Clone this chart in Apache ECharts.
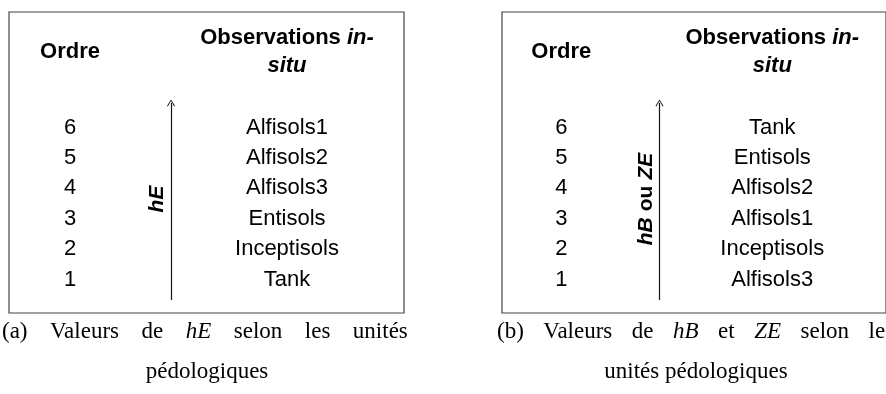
<!DOCTYPE html>
<html><head><meta charset="utf-8">
<script src="https://cdn.jsdelivr.net/npm/echarts@6/dist/echarts.min.js"></script>
<style>html,body{margin:0;padding:0;background:#fff}#c{width:886px;height:394px}</style>
</head><body><div id="c"></div>
<script>
// ---- data ----
const orders = [1, 2, 3, 4, 5, 6];
const unitsA = ['Tank', 'Inceptisols', 'Entisols', 'Alfisols3', 'Alfisols2', 'Alfisols1'];
const unitsB = ['Alfisols3', 'Inceptisols', 'Alfisols1', 'Alfisols2', 'Entisols', 'Tank'];
const headerOrder = 'Ordre';
const headerObs = ['Observations', 'in-', 'situ'];
const arrowLabelA = ['hE'];
const arrowLabelB = ['hB', 'ou', 'ZE'];
// caption words: [text, italic?]
const captionA1 = [['(a)', 0], ['Valeurs', 0], ['de', 0], ['hE', 1], ['selon', 0], ['les', 0], ['unités', 0]];
const captionA2 = 'pédologiques';
const captionB1 = [['(b)', 0], ['Valeurs', 0], ['de', 0], ['hB', 1], ['et', 0], ['ZE', 1], ['selon', 0], ['les', 0]];
const captionB2 = 'unités pédologiques';

// ---- layout (not data) ----
const COL = { order: 61, label: 148, arrow: 162, obs: 278 };
const ROW = { header: 8.47, arrowFrom: 0.33, arrowTo: 6.81, label: 3.65 };
const SANS = 'Liberation Sans, Arial, sans-serif';
const SERIF = 'Liberation Serif, Times New Roman, serif';
const FS = 22;
const arrowHead = 'path://M0,10 L5,0 L10,10 L9,10.7 L5,2.3 L1,10.7 Z';

function panelSeries(idx, units, labelParts) {
  const base = { type: 'scatter', xAxisIndex: idx, yAxisIndex: idx, symbolSize: 0, silent: true,
    animation: false, emphasis: { disabled: true }, itemStyle: { opacity: 1 } };
  const lbl = { show: true, position: 'inside', align: 'center', verticalAlign: 'middle',
    fontFamily: SANS, fontSize: FS, color: '#000', opacity: 1 };
  const rot = labelParts.length === 1
    ? '{bi|' + labelParts[0] + '}'
    : '{bi|' + labelParts[0] + '} {b|' + labelParts[1] + '} {bi|' + labelParts[2] + '}';
  return [
    Object.assign({}, base, {
      data: orders.map(o => [COL.order, o]),
      label: Object.assign({}, lbl, { formatter: p => String(p.value[1]) }),
      markLine: { silent: true, animation: false, symbol: ['none', arrowHead], symbolSize: [8, 7],
        lineStyle: { color: '#111', width: 1.2, type: 'solid', opacity: 1 }, label: { show: false },
        emphasis: { disabled: true },
        data: [[{ coord: [COL.arrow, ROW.arrowFrom] }, { coord: [COL.arrow, ROW.arrowTo] }]] }
    }),
    Object.assign({}, base, {
      data: units.map((u, i) => ({ name: u, value: [COL.obs, orders[i]] })),
      label: Object.assign({}, lbl, { formatter: '{b}' })
    }),
    Object.assign({}, base, {
      data: [{ name: 'o', value: [COL.order, ROW.header] }, { name: 'obs', value: [COL.obs, ROW.header] }],
      label: Object.assign({}, lbl, {
        formatter: p => p.name === 'o' ? '{b|' + headerOrder + '}'
          : '{b|' + headerObs[0] + ' }{bi|' + headerObs[1] + '}\n{bi|' + headerObs[2] + '}',
        rich: {
          b: { fontFamily: SANS, fontSize: FS, fontWeight: 'bold', lineHeight: 28, color: '#000' },
          bi: { fontFamily: SANS, fontSize: FS, fontWeight: 'bold', fontStyle: 'italic', lineHeight: 28, color: '#000' }
        }
      })
    }),
    Object.assign({}, base, {
      data: [[COL.label, ROW.label]],
      label: Object.assign({}, lbl, {
        rotate: 90, formatter: rot,
        rich: {
          b: { fontFamily: SANS, fontSize: 21, fontWeight: 'bold', color: '#000' },
          bi: { fontFamily: SANS, fontSize: 21, fontWeight: 'bold', fontStyle: 'italic', color: '#000' }
        }
      })
    })
  ];
}

const CFS = 23;
function capRich(gap) {
  return {
    r: { fontFamily: SERIF, fontSize: CFS, fontWeight: 'normal', color: '#000' },
    i: { fontFamily: SERIF, fontSize: CFS, fontWeight: 'normal', fontStyle: 'italic', color: '#000' },
    g: { fontFamily: SERIF, fontSize: CFS, fontWeight: 'normal', width: gap }
  };
}
function capLine(words) {
  return words.map(w => '{' + (w[1] ? 'i' : 'r') + '|' + w[0] + '}').join('{g| }');
}
const chart = echarts.init(document.getElementById('c'), null, { renderer: 'canvas' });
chart.setOption({
  backgroundColor: '#fff',
  animation: false,
  title: [
    { left: 2, top: 320, padding: 0, text: capLine(captionA1), textStyle: { fontWeight: 'normal', rich: capRich(22.5) } },
    { left: 207, top: 360, padding: 0, textAlign: 'center', text: '{r|' + captionA2 + '}', textStyle: { fontWeight: 'normal', rich: capRich(10) } },
    { left: 497, top: 320, padding: 0, text: capLine(captionB1), textStyle: { fontWeight: 'normal', rich: capRich(19.5) } },
    { left: 696, top: 360, padding: 0, textAlign: 'center', text: '{r|' + captionB2 + '}', textStyle: { fontWeight: 'normal', rich: capRich(10) } }
  ],
  grid: [
    { left: 9, top: 12, width: 395, height: 301, show: true, borderColor: '#444', borderWidth: 1.2, backgroundColor: 'transparent' },
    { left: 502, top: 12, width: 395, height: 301, show: true, borderColor: '#444', borderWidth: 1.2, backgroundColor: 'transparent' }
  ],
  xAxis: [0, 1].map(i => ({ type: 'value', gridIndex: i, min: 0, max: 395, show: false })),
  yAxis: [0, 1].map(i => ({ type: 'value', gridIndex: i, min: -0.1, max: 9.8, show: false })),
  series: panelSeries(0, unitsA, arrowLabelA).concat(panelSeries(1, unitsB, arrowLabelB))
});
</script></body></html>
